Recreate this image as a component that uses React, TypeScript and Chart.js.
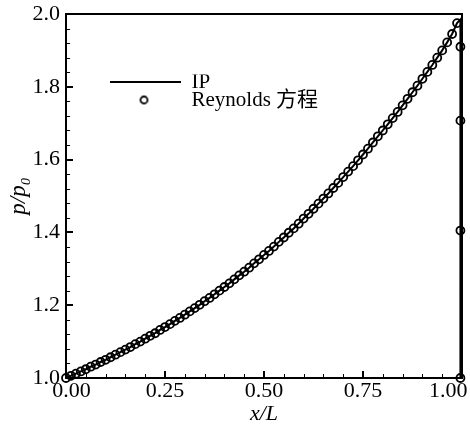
import React, { useEffect, useRef } from 'react';
import { Chart, registerables } from 'chart.js';

Chart.register(...registerables);

// x/L positions of the computed points
const xGrid = [
  0, 0.0125, 0.025, 0.0375, 0.05, 0.0625, 0.075, 0.0875, 0.1, 0.1125,
  0.125, 0.1375, 0.15, 0.1625, 0.175, 0.1875, 0.2, 0.2125, 0.225, 0.2375,
  0.25, 0.2625, 0.275, 0.2875, 0.3, 0.3125, 0.325, 0.3375, 0.35, 0.3625,
  0.375, 0.3875, 0.4, 0.4125, 0.425, 0.4375, 0.45, 0.4625, 0.475, 0.4875,
  0.5, 0.5125, 0.525, 0.5375, 0.55, 0.5625, 0.575, 0.5875, 0.6, 0.6125,
  0.625, 0.6375, 0.65, 0.6625, 0.675, 0.6875, 0.7, 0.7125, 0.725, 0.7375,
  0.75, 0.7625, 0.775, 0.7875, 0.8, 0.8125, 0.825, 0.8375, 0.85, 0.8625,
  0.875, 0.8875, 0.9, 0.9125, 0.925, 0.9375, 0.95, 0.9625, 0.975, 0.9875,
];

// p/p0 (Reynolds) read at each xGrid position
const reynoldsP = [
  1.000, 1.006, 1.012, 1.018, 1.024, 1.031, 1.037, 1.044, 1.050, 1.057,
  1.064, 1.071, 1.078, 1.085, 1.093, 1.100, 1.108, 1.116, 1.123, 1.132,
  1.140, 1.148, 1.157, 1.165, 1.174, 1.183, 1.192, 1.201, 1.211, 1.220,
  1.230, 1.240, 1.250, 1.260, 1.271, 1.282, 1.292, 1.303, 1.315, 1.326,
  1.338, 1.349, 1.361, 1.374, 1.386, 1.399, 1.411, 1.424, 1.438, 1.451,
  1.465, 1.479, 1.493, 1.507, 1.522, 1.536, 1.552, 1.567, 1.582, 1.598,
  1.614, 1.630, 1.647, 1.664, 1.680, 1.697, 1.714, 1.731, 1.749, 1.767,
  1.785, 1.803, 1.822, 1.841, 1.860, 1.880, 1.900, 1.922, 1.945, 1.975,
];

// points on the outlet drop
const dropX = [0.996, 0.996, 0.996, 0.996];
const reynoldsDropP = [1.91, 1.707, 1.405, 1.0];

// IP curve follows the same profile, then drops at the outlet
const ipP = reynoldsP;
const ipEndX = [0.996, 0.996];
const ipEndP = [1.985, 1.0];

const xTicks = [0, 0.25, 0.5, 0.75, 1];
const yTicks = [1.0, 1.2, 1.4, 1.6, 1.8, 2.0];
const seriesNames = ['IP', 'Reynolds 方程'];

const FONT = "'Liberation Serif', 'Noto Sans CJK SC', serif";

function makeCircleStyle(radius: number, lineWidth: number) {
  const size = Math.ceil(2 * radius + lineWidth + 2);
  const c = document.createElement('canvas');
  c.width = size;
  c.height = size;
  const g = c.getContext('2d');
  if (g) {
    g.strokeStyle = '#000';
    g.lineWidth = lineWidth;
    g.beginPath();
    g.arc(size / 2, size / 2, radius, 0, Math.PI * 2);
    g.stroke();
  }
  return c;
}

const framePlugin = {
  id: 'frameTicks',
  afterLayout(chart: any) {
    const lg = chart.legend;
    const a = chart.chartArea;
    if (lg && a) {
      lg.left = a.left + 44;
      lg.top = a.top + 60.5;
    }
  },
  afterDatasetsDraw(chart: any) {
    const { ctx, chartArea: a, scales } = chart;
    const xs = scales.x;
    const ys = scales.y;
    ctx.save();
    ctx.strokeStyle = '#000';
    for (let i = 0; i <= 20; i++) {
      const major = i % 5 === 0;
      const px = Math.round(xs.getPixelForValue(xs.min + (i * (xs.max - xs.min)) / 20));
      ctx.lineWidth = major ? 2 : 1;
      ctx.beginPath();
      ctx.moveTo(px + (major ? 0 : 0.5), a.bottom);
      ctx.lineTo(px + (major ? 0 : 0.5), a.bottom - (major ? 7 : 4));
      ctx.stroke();
    }
    for (let i = 0; i <= 25; i++) {
      const major = i % 5 === 0;
      const py = Math.round(ys.getPixelForValue(ys.min + (i * (ys.max - ys.min)) / 25));
      ctx.lineWidth = major ? 2 : 1;
      ctx.beginPath();
      ctx.moveTo(a.left, py + (major ? 0 : 0.5));
      ctx.lineTo(a.left + (major ? 7 : 4), py + (major ? 0 : 0.5));
      ctx.stroke();
    }
    ctx.lineWidth = 2;
    ctx.strokeRect(a.left, a.top, a.right - a.left, a.bottom - a.top);
    ctx.restore();
  },
};

export default function App() {
  const ref = useRef<HTMLCanvasElement | null>(null);

  useEffect(() => {
    if (!ref.current) return;
    Chart.defaults.font.family = FONT;
    Chart.defaults.color = '#000';

    const ipData = xGrid
      .map((x, i) => ({ x, y: ipP[i] }))
      .concat(ipEndX.map((x, i) => ({ x, y: ipEndP[i] })));
    const reyData = xGrid
      .map((x, i) => ({ x, y: reynoldsP[i] }))
      .concat(dropX.map((x, i) => ({ x, y: reynoldsDropP[i] })));

    const circleStyle = makeCircleStyle(3.5, 1.8);
    const defaultLabels = (Chart.defaults.plugins.legend.labels as any).generateLabels;

    const chart = new Chart(ref.current, {
      type: 'scatter',
      data: {
        datasets: [
          {
            label: seriesNames[0],
            data: ipData,
            showLine: true,
            borderColor: '#000',
            borderWidth: 2,
            backgroundColor: 'rgba(0,0,0,0)',
            pointRadius: 0,
            pointHoverRadius: 0,
            pointStyle: 'line',
            pointBorderWidth: 2,
            pointBorderColor: '#000',
            tension: 0,
            clip: false,
          } as any,
          {
            label: seriesNames[1],
            data: reyData,
            showLine: false,
            borderColor: '#000',
            borderWidth: 1.8,
            backgroundColor: 'rgba(0,0,0,0)',
            pointStyle: 'circle',
            pointRadius: 4,
            pointHoverRadius: 4,
            pointBorderWidth: 1.8,
            pointBorderColor: '#000',
            pointBackgroundColor: 'rgba(0,0,0,0)',
            clip: false,
          } as any,
        ],
      },
      options: {
        animation: false,
        responsive: false,
        maintainAspectRatio: false,
        devicePixelRatio: 1,
        layout: { padding: { top: 14, right: 8, left: 0, bottom: 0 } },
        plugins: {
          tooltip: { enabled: false },
          legend: {
            display: true,
            position: 'chartArea',
            align: 'start',
            labels: {
              usePointStyle: true,
              pointStyleWidth: 74,
              boxHeight: 5,
              padding: -3,
              color: '#000',
              font: { family: FONT, size: 21 },
              generateLabels: (c: any) => {
                const items = defaultLabels(c);
                items.forEach((it: any) => {
                  if (it.datasetIndex === 1) it.pointStyle = circleStyle;
                });
                return items;
              },
            },
          } as any,
        },
        scales: {
          x: {
            type: 'linear',
            min: 0,
            max: 1,
            afterBuildTicks: (s: any) => {
              s.ticks = xTicks.map((v) => ({ value: v }));
            },
            afterFit: (s: any) => {
              s.height = 49;
              s.paddingLeft = 0;
              s.paddingRight = 0;
            },
            grid: { display: false, drawTicks: false },
            border: { display: false },
            ticks: {
              color: '#000',
              padding: 0,
              maxRotation: 0,
              autoSkip: false,
              font: { family: FONT, size: 22 },
              callback: (v: any) => {
                const s = Number(v).toFixed(2);
                if (Number(v) === 0) return '  ' + s;
                if (Number(v) === 1) return s + '     ';
                return s;
              },
            },
            title: {
              display: true,
              text: 'x/L',
              color: '#000',
              font: { family: FONT, size: 22, style: 'italic' },
              padding: { top: 0, bottom: 0 },
            },
          },
          y: {
            type: 'linear',
            min: 1,
            max: 2,
            afterBuildTicks: (s: any) => {
              s.ticks = yTicks.map((v) => ({ value: v }));
            },
            afterFit: (s: any) => {
              s.width = 66;
              s.paddingTop = 0;
              s.paddingBottom = 0;
            },
            grid: { display: false, drawTicks: false },
            border: { display: false },
            ticks: {
              color: '#000',
              padding: 6,
              autoSkip: false,
              font: { family: FONT, size: 22 },
              callback: (v: any) => Number(v).toFixed(1),
            },
            title: {
              display: true,
              text: 'p/p₀',
              color: '#000',
              font: { family: FONT, size: 23, style: 'italic' },
              padding: { top: 5, bottom: 0 },
            },
          },
        },
      },
      plugins: [framePlugin],
    } as any);

    return () => chart.destroy();
  }, []);

  return (
    <div style={{ position: 'absolute', left: 0, top: 0, width: 470, height: 427 }}>
      <canvas ref={ref} width={470} height={427} style={{ display: 'block', width: 470, height: 427 }} />
    </div>
  );
}
